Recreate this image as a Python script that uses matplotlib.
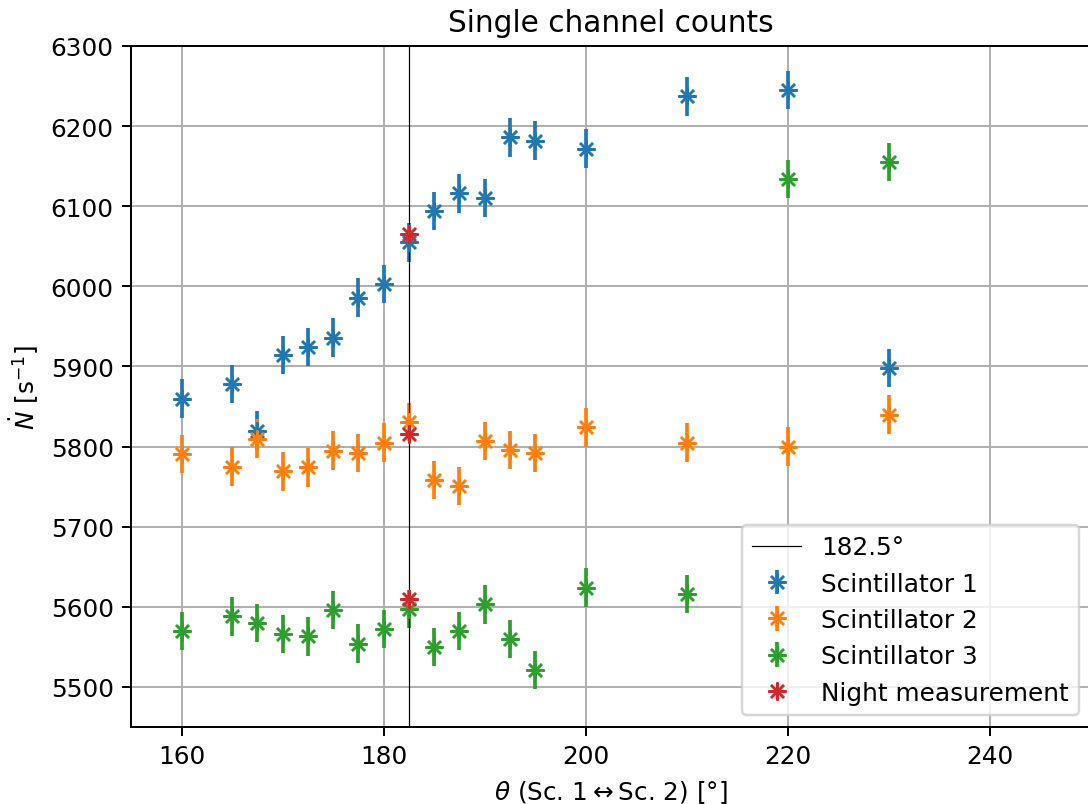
import numpy as np
import matplotlib
matplotlib.use('Agg')
import matplotlib.pyplot as plt

# angulos medidos (grados)
theta = [160, 165, 167.5, 170, 172.5, 175, 177.5, 180, 182.5, 185, 187.5,
         190, 192.5, 195, 200, 210, 220, 230]

# tasas de conteo por centelleador [1/s]
sc1 = [5860, 5878, 5820, 5914, 5924, 5936, 5986, 6003, 6055, 6094, 6116,
       6110, 6186, 6182, 6172, 6237, 6245, 5898]
sc2 = [5791, 5775, 5810, 5769, 5774, 5795, 5792, 5805, 5831, 5758, 5751,
       5807, 5796, 5792, 5824, 5805, 5800, 5840]
sc3 = [5570, 5588, 5580, 5566, 5563, 5596, 5554, 5572, 5597, 5550, 5570,
       5603, 5560, 5521, 5624, 5616, 6134, 6155]
err = 24  # error estadistico [1/s]

# medicion nocturna a 182.5 grados
theta_night = [182.5, 182.5, 182.5]
night = [6065, 5816, 5610]

theta_ref = 182.5

dpi = 178
fig = plt.figure(figsize=(1088/dpi, 805/dpi), dpi=dpi)
ax = fig.add_axes([131/1088, 1 - 728/805, (1091 - 131)/1088, (728 - 47)/805])

mk = (8, 2, 0)  # asterisco de 8 brazos
ax.errorbar(theta, sc1, yerr=err, marker=mk, ls='none', ms=7.3, color='C0', label='Scintillator 1')
ax.errorbar(theta, sc2, yerr=err, marker=mk, ls='none', ms=7.3, color='C1', label='Scintillator 2')
ax.errorbar(theta, sc3, yerr=err, marker=mk, ls='none', ms=7.3, color='C2', label='Scintillator 3')
ax.errorbar(theta_night, night, marker=mk, ls='none', ms=7.3, color='C3', label='Night measurement')
ax.axvline(theta_ref, color='k', lw=0.5, label=f'{theta_ref}°')

ax.set_xlim(155, 250)
ax.set_ylim(5450, 6300)
ax.set_title('Single channel counts')
ax.set_xlabel(r'$\theta$ (Sc. 1$\leftrightarrow$Sc. 2) [°]')
ax.set_ylabel(r'$\dot{N}$ [s$^{-1}$]')
ax.grid()
ax.legend(loc='lower right')

fig.savefig('out.png', dpi=dpi)
